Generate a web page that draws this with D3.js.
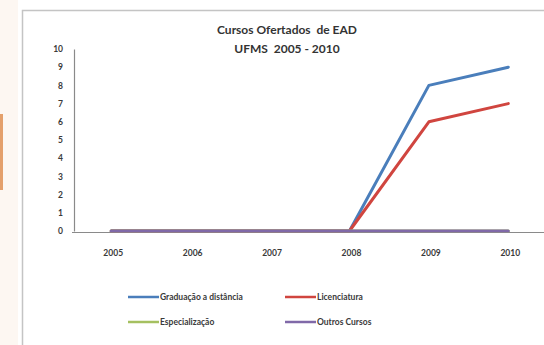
<!DOCTYPE html>
<html>
<head>
<meta charset="utf-8">
<script src="https://cdn.jsdelivr.net/npm/d3@7"></script>
<style>
  html, body { margin: 0; padding: 0; background: #fff; }
  svg { display: block; }
  text { font-family: Lato, "Open Sans", "DejaVu Sans", sans-serif; white-space: pre; }
</style>
</head>
<body>
<svg id="chart" width="544" height="345"></svg>
<script>
// Courses offered in distance education (EAD), UFMS 2005–2010
const years = ["2005", "2006", "2007", "2008", "2009", "2010"];
const graduacao = [0, 0, 0, 0, 8, 9];
const licenciatura = [0, 0, 0, 0, 6, 7];
const especializacao = [0, 0, 0, 0, 0, 0];
const outrosCursos = [0, 0, 0, 0, 0, 0];
const yTicks = [0, 1, 2, 3, 4, 5, 6, 7, 8, 9, 10];
const titleLines = ["Cursos Ofertados  de EAD", "UFMS  2005 - 2010"];

const series = [
  { name: "Graduação a distância", values: graduacao, color: "#4a7ebb" },
  { name: "Licenciatura", values: licenciatura, color: "#d0453f" },
  { name: "Especialização", values: especializacao, color: "#a5c060" },
  { name: "Outros Cursos", values: outrosCursos, color: "#8069a8" }
];

const svg = d3.select("#chart");

// neighbouring element peeking in at the left edge
svg.append("rect").attr("x", 0).attr("y", 0).attr("width", 18).attr("height", 345)
  .attr("fill", "#fdf7f2");
svg.append("rect").attr("x", 0).attr("y", 114).attr("width", 3).attr("height", 76)
  .attr("fill", "#e4a06c");

// chart frame
svg.append("rect").attr("x", 22.5).attr("y", 10.5).attr("width", 600).attr("height", 400)
  .attr("fill", "#fff").attr("stroke", "#c4c4c4").attr("stroke-width", 1.5);

const x = d3.scaleBand().domain(years).range([71.5, 548]);
const y = d3.scaleLinear().domain([0, 10]).range([231, 49]);

// title
svg.append("g").selectAll("text").data(titleLines).join("text")
  .attr("x", 287).attr("y", (d, i) => 34 + i * 19)
  .attr("text-anchor", "middle")
  .attr("font-size", 12).attr("font-weight", 700).attr("fill", "#333")
  .text(d => d);

// y axis
const yAxis = svg.append("g").attr("transform", "translate(74,0)")
  .call(d3.axisLeft(y).tickValues(yTicks).tickSize(0).tickPadding(11).tickFormat(d3.format("d")));
yAxis.select(".domain").attr("stroke", "#8a8a8a").attr("stroke-width", 1.2);
yAxis.selectAll("text").attr("font-size", 8.5).attr("font-weight", 700).attr("fill", "#3a3a3a")
  .style("font-family", "Lato, 'Open Sans', sans-serif");

// x axis
const xAxis = svg.append("g").attr("transform", "translate(0,232)")
  .call(d3.axisBottom(x).tickSize(0).tickPadding(18));
xAxis.select(".domain").attr("stroke", "#8a8a8a").attr("stroke-width", 1.2);
xAxis.selectAll("text").attr("font-size", 8.5).attr("font-weight", 700).attr("fill", "#3a3a3a")
  .attr("dx", 2)
  .style("font-family", "Lato, 'Open Sans', sans-serif");

// series lines
const line = d3.line()
  .x((d, i) => x(years[i]) + x.bandwidth() / 2)
  .y(d => y(d));

svg.append("g").selectAll("path").data(series).join("path")
  .attr("d", d => line(d.values))
  .attr("fill", "none")
  .attr("stroke", d => d.color)
  .attr("stroke-width", 3)
  .attr("stroke-linejoin", "round")
  .attr("stroke-linecap", "round");

// legend
const legendPos = [[128, 297], [285, 297], [128, 322], [285, 322]];
const legend = svg.append("g").selectAll("g").data(series).join("g")
  .attr("transform", (d, i) => `translate(${legendPos[i][0]},${legendPos[i][1]})`);
legend.append("line").attr("x1", 0).attr("x2", 31).attr("y1", 0).attr("y2", 0)
  .attr("stroke", d => d.color).attr("stroke-width", 2.5);
legend.append("text").attr("x", 32).attr("y", 3)
  .attr("font-size", 8.5).attr("font-weight", 700).attr("fill", "#3a3a3a")
  .text(d => d.name);
</script>
</body>
</html>
